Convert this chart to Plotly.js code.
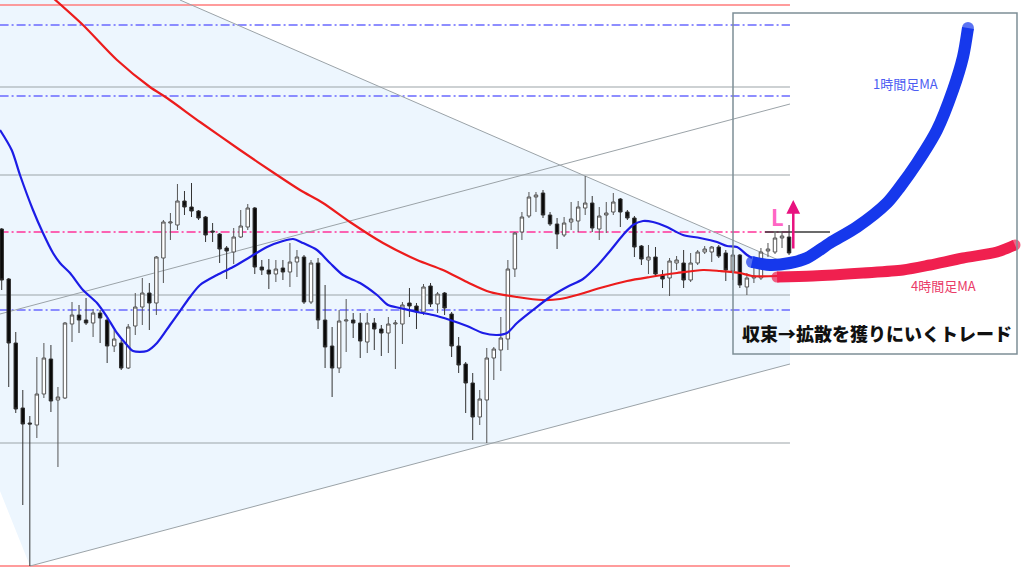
<!DOCTYPE html>
<html>
<head>
<meta charset="utf-8">
<script src="https://cdn.plot.ly/plotly-3.0.1.min.js"></script>
<style>
html,body{margin:0;padding:0;background:#fff;}
#chart{width:1024px;height:576px;}
</style>
</head>
<body>
<div id="chart"></div>
<script>
// ---- Candle data (price) ----
const open = [143.47,142.97,142.33,141.68,141.53,141.51,141.82,142.17,141.76,141.78,
142.52,142.61,142.56,142.53,142.63,142.56,142.30,142.33,142.08,142.50,
142.69,142.83,142.73,143.18,143.53,143.51,143.75,143.69,143.65,143.59,
143.45,143.42,143.28,143.24,143.39,143.49,143.68,143.09,143.06,143.02,
143.08,143.04,143.14,143.19,142.74,143.13,142.56,142.30,142.08,142.55,
142.56,142.53,142.34,142.53,142.47,142.43,142.52,142.52,142.73,142.70,
142.64,142.90,142.72,142.83,142.62,142.30,142.12,141.93,141.59,141.76,
142.18,142.26,142.37,143.07,143.44,143.60,143.79,143.83,143.61,143.52,
143.41,143.54,143.55,143.68,143.73,143.47,143.61,143.64,143.77,143.64,
143.58,143.30,143.16,143.19,143.01,142.98,143.13,143.13,142.96,143.13,
143.24,143.24,143.29,143.23,143.05,143.21,142.89,142.98,142.98,143.25,
143.24,143.38,143.39];
const high = [143.48,142.98,142.44,141.86,141.60,142.19,142.33,142.31,141.89,142.54,
142.74,142.71,142.78,142.67,142.66,142.58,142.46,142.36,142.52,142.83,
142.98,142.93,143.20,143.56,143.63,143.92,143.85,143.93,143.66,143.60,
143.53,143.43,143.30,143.48,143.66,143.72,143.69,143.16,143.17,143.16,
143.16,143.33,143.26,143.21,143.16,143.18,142.91,142.49,142.66,142.77,
142.63,142.63,142.63,142.58,142.51,142.59,142.56,142.74,142.88,142.73,
142.92,142.93,142.84,142.84,142.64,142.39,142.14,142.03,141.86,142.28,
142.29,142.59,143.16,143.44,143.64,143.84,143.84,143.86,143.64,143.58,
143.59,143.74,143.75,144.00,143.80,143.69,143.74,143.83,143.78,143.66,
143.60,143.31,143.31,143.29,143.06,143.18,143.20,143.26,143.23,143.26,
143.30,143.30,143.31,143.26,143.26,143.22,143.03,143.09,143.28,143.33,
143.43,143.43,143.51];
const low = [142.86,141.89,141.63,140.71,140.10,141.38,141.78,141.64,141.09,141.77,
142.34,142.43,142.51,142.39,142.33,142.13,142.24,142.06,142.07,142.41,
142.51,142.46,142.61,142.93,143.36,143.46,143.61,143.59,143.56,143.34,
143.34,143.13,142.97,143.12,143.38,143.46,143.02,143.01,142.87,142.94,
142.96,142.89,142.99,142.72,142.72,142.47,142.08,141.79,142.03,142.24,
142.38,142.18,142.23,142.26,142.20,142.23,142.07,142.32,142.59,142.47,
142.61,142.69,142.63,142.61,142.19,142.03,141.63,141.36,141.51,141.33,
141.96,142.05,142.26,142.99,143.36,143.58,143.64,143.58,143.50,143.27,
143.39,143.46,143.44,143.61,143.44,143.36,143.43,143.61,143.49,143.56,
143.19,143.11,143.02,142.99,142.88,142.80,143.06,142.88,142.94,143.11,
143.22,143.14,143.18,142.95,142.96,142.88,142.81,142.93,142.96,143.19,
143.22,143.28,143.21];
const close = [142.96,142.33,141.67,141.52,141.52,141.82,142.18,141.75,141.79,142.53,
142.61,142.56,142.53,142.63,142.58,142.30,142.37,142.08,142.49,142.69,
142.83,142.73,143.19,143.54,143.54,143.75,143.69,143.65,143.58,143.41,
143.44,143.27,143.25,143.39,143.50,143.68,143.09,143.06,143.02,143.07,
143.04,143.14,143.19,142.74,143.13,142.56,142.29,142.08,142.55,142.56,
142.53,142.35,142.53,142.47,142.43,142.52,142.53,142.71,142.70,142.64,
142.89,142.72,142.82,142.68,142.30,142.11,141.93,141.59,141.77,142.18,
142.27,142.38,143.07,143.43,143.59,143.79,143.81,143.61,143.52,143.42,
143.53,143.57,143.69,143.73,143.48,143.60,143.63,143.74,143.64,143.58,
143.29,143.17,143.19,143.02,142.97,143.15,143.16,142.96,143.13,143.24,
143.27,143.29,143.20,143.06,143.21,142.91,142.98,143.00,143.24,143.27,
143.38,143.40,143.23];
const barIndex = open.map((_, i) => i);

// ---- Moving averages (bar position, price) ----
const ma1hX = [-0.24,1.42,2.60,4.45,5.87,7.30,8.29,9.72,11.56,13.56,14.98,16.40,17.82,18.68,20.67,22.09,23.94,25.36,26.79,28.21,30.63,32.90,35.32,37.74,40.01,41.44,42.86,44.85,46.70,48.55,50.97,53.39,54.95,56.66,59.08,61.35,63.77,66.19,68.46,70.46,71.88,73.30,75.58,78.00,80.41,82.69,84.68,86.53,88.38,89.80,91.22,92.65,94.64,96.91,99.33,101.75,103.18,104.60,106.02,106.73];
const ma1hY = [144.46,144.26,144.01,143.66,143.43,143.23,143.13,143.03,142.86,142.73,142.59,142.43,142.31,142.25,142.25,142.33,142.51,142.65,142.79,142.91,143.01,143.09,143.19,143.29,143.35,143.37,143.33,143.26,143.13,143.01,142.93,142.81,142.71,142.68,142.64,142.61,142.56,142.50,142.43,142.41,142.43,142.53,142.66,142.79,142.89,142.97,143.10,143.25,143.41,143.51,143.55,143.54,143.49,143.41,143.38,143.34,143.30,143.29,143.21,143.18];
const ma4hX = [7.15,11.56,16.40,21.09,23.51,28.21,33.90,39.16,42.43,45.70,49.54,54.24,59.08,62.77,66.19,69.46,73.30,77.00,79.42,81.83,85.11,88.95,92.22,96.06,99.76,102.18,105.02,106.73,110.29];
const ma4hY = [145.79,145.51,145.16,144.89,144.78,144.54,144.26,144.01,143.86,143.73,143.54,143.33,143.16,143.06,142.94,142.84,142.79,142.76,142.77,142.81,142.88,142.95,142.99,143.03,143.06,143.05,143.03,143.00,143.00];

// ---- Hand-drawn projection (sketch) ----
const sketch1hX = [106.73,109.29,112.13,114.55,117.82,121.66,125.93,127.78,130.20,133.04,135.32,136.74,137.45];
const sketch1hY = [143.14,143.11,143.13,143.18,143.33,143.49,143.73,143.89,144.13,144.46,144.86,145.19,145.48];
const sketch4hX = [110.29,115.40,122.52,128.20,132.05,136.74,141.58,144.14];
const sketch4hY = [142.99,143.00,143.03,143.06,143.11,143.18,143.24,143.31];

// ---- Horizontal levels ----
const levelPrices = [145.71,145.51,144.89,144.80,144.01,143.44,142.81,142.66,141.33,140.10];
const levelKinds  = ['red','blue','gray','blue','gray','pink','gray','blue','gray','red'];
// ---- Trend lines: [x0, y0, x1, y1] ----
const trendUpper = [25.36,145.76,112.13,143.11];
const trendLower = [4.03,140.10,112.13,142.12];
const trendChannel = [-0.24,142.62,112.13,144.72];
const entryLevel = 143.44;

// ---- Labels ----
const label1h = '1時間足MA';
const label4h = '4時間足MA';
const labelMain = '収束→拡散を獲りにいくトレード';
const labelL = 'L';

const chartEnd = 112.13;
const styles = {
  red:  {color:'#ff7b7b', width:1.5, dash:'solid'},
  blue: {color:'#6a6aff', width:1.3, dash:'9px,3px,2px,3px'},
  gray: {color:'#9ba3a8', width:1.2, dash:'solid'},
  pink: {color:'#ff3399', width:1.5, dash:'9px,3px,2px,3px'}
};

const shapes = [];
shapes.push({
  type:'path', layer:'below', xref:'x', yref:'y',
  path:`M -0.3,145.8 L ${trendUpper[0]},145.76 L ${trendUpper[2]},${trendUpper[3]} L ${trendLower[2]},${trendLower[3]} L ${trendLower[0]},${trendLower[1]} L -0.3,140.86 Z`,
  fillcolor:'#edf6fe', line:{width:0}
});
levelPrices.forEach((p, k) => {
  const s = styles[levelKinds[k]];
  shapes.push({type:'line', layer:'below', xref:'x', yref:'y', x0:-0.3, x1:chartEnd, y0:p, y1:p,
    line:{color:s.color, width:s.width, dash:s.dash}});
});
[trendUpper, trendLower, trendChannel].forEach(t => {
  shapes.push({type:'line', layer:'below', xref:'x', yref:'y', x0:t[0], y0:t[1], x1:t[2], y1:t[3],
    line:{color:'#9ba3a8', width:1}});
});
shapes.push({type:'line', layer:'above', xref:'x', yref:'y', x0:108.58, x1:117.82, y0:entryLevel, y1:entryLevel,
  line:{color:'#3a3a3a', width:1.5}});
shapes.push({type:'rect', layer:'above', xref:'paper', yref:'paper',
  x0:733/1024, x1:1017/1024, y0:1-354/576, y1:1-13/576,
  line:{color:'#7d8e96', width:1.5}, fillcolor:'rgba(0,0,0,0)'});

const endMarkers = (n, s) => Array.from({length:n}, (_, i) => (i === 0 || i === n-1) ? s : 0);

const traces = [
  {
    type:'candlestick', x:barIndex, open:open, high:high, low:low, close:close,
    increasing:{line:{color:'#555555', width:1}, fillcolor:'#ffffff'},
    decreasing:{line:{color:'#333333', width:1}, fillcolor:'#0a0a0a'},
    whiskerwidth:0, hoverinfo:'skip', showlegend:false
  },
  {type:'scatter', mode:'lines', x:ma4hX, y:ma4hY, line:{color:'#ec1c1c', width:2.2, shape:'spline', smoothing:0.8}, hoverinfo:'skip', showlegend:false},
  {type:'scatter', mode:'lines', x:ma1hX, y:ma1hY, line:{color:'#1c1ce6', width:2.2, shape:'spline', smoothing:0.8}, hoverinfo:'skip', showlegend:false},
  {type:'scatter', mode:'lines+markers', x:sketch4hX, y:sketch4hY,
    line:{color:'#f0204f', width:11, shape:'spline', smoothing:0.8},
    marker:{color:'#f0204f', size:endMarkers(sketch4hX.length, 11), line:{width:0}}, hoverinfo:'skip', showlegend:false},
  {type:'scatter', mode:'lines+markers', x:sketch1hX, y:sketch1hY,
    line:{color:'#1638ec', width:12, shape:'spline', smoothing:0.8},
    marker:{color:'#1638ec', size:endMarkers(sketch1hX.length, 12), line:{width:0}}, hoverinfo:'skip', showlegend:false}
];

const jp = '"Noto Sans CJK JP", "Noto Sans", sans-serif';
const annotations = [
  {xref:'paper', yref:'paper', x:905/1024, y:1-83/576, xanchor:'center', yanchor:'middle', text:label1h, showarrow:false,
    font:{family:jp, size:13, color:'#4c5cf2'}},
  {xref:'paper', yref:'paper', x:943/1024, y:1-285/576, xanchor:'center', yanchor:'middle', text:label4h, showarrow:false,
    font:{family:jp, size:13, color:'#ea3a68'}},
  {xref:'paper', yref:'paper', x:877/1024, y:1-333/576, xanchor:'center', yanchor:'middle', text:labelMain, showarrow:false,
    font:{family:jp, size:18, color:'#111111', weight:900}},
  {xref:'paper', yref:'paper', x:777/1024, y:1-216/576, xanchor:'center', yanchor:'middle', text:labelL, showarrow:false,
    font:{family:jp, size:22, color:'#ff66c4', weight:700}},
  {xref:'x', yref:'y', x:112.6, y:143.76, text:'', showarrow:true, ax:0, ay:50,
    arrowhead:2, arrowsize:1.1, arrowwidth:2.5, arrowcolor:'#e8127f'}
];

const layout = {
  width:1024, height:576,
  margin:{l:0, r:0, t:0, b:0, pad:0},
  paper_bgcolor:'#ffffff', plot_bgcolor:'#ffffff',
  showlegend:false,
  xaxis:{range:[-0.2418, 145.42], visible:false, fixedrange:true, rangeslider:{visible:false}},
  yaxis:{range:[140.00, 145.76], visible:false, fixedrange:true},
  shapes:shapes,
  annotations:annotations
};

Plotly.newPlot('chart', traces, layout, {staticPlot:true, displayModeBar:false});
</script>
</body>
</html>
